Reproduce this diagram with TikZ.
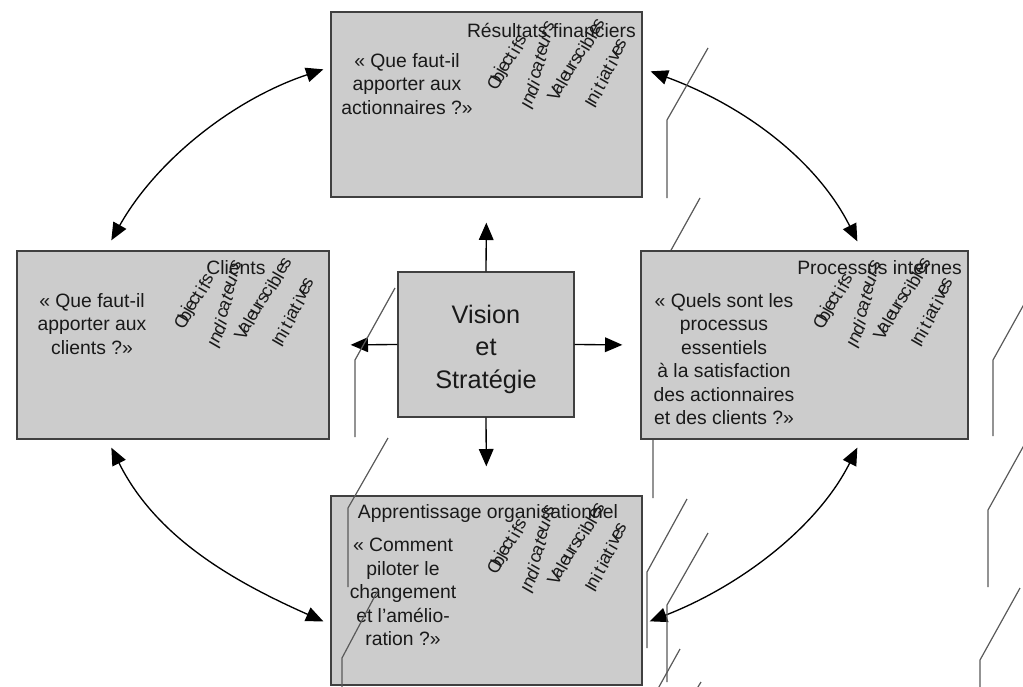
\documentclass[tikz,border=0pt]{standalone}
\usepackage{fontspec}
\setmainfont{Liberation Sans}
\usetikzlibrary{calc,arrows.meta}
\newcommand\gcol[6]{%
  \coordinate (ga) at ($(#1)+(#2)$);
  \coordinate (gb) at ($(#1)+(#3)$);
  \foreach \ch [count=\i] in {#5} {%
    \pgfmathsetmacro\gf{(\i-1)/(#4-1)}%
    \node[garb] (#6-\i) at ($(ga)!\gf!(gb)$) {\ch};
  }}
\newcommand\gblock[1]{%
  \gcol{#1}{0,0}{26,-42}{9}{O,b,j,e,c,t,i,f,s}{#1a}
  \gcol{#1}{33,24}{54,-56}{11}{I,n,d,i,c,a,t,e,u,r,s}{#1b}
  \gcol{#1}{60,12}{104,-58}{13}{V,a,l,e,u,r,s,c,i,b,l,e,s}{#1c}
  \gcol{#1}{96,22}{126,-38}{11}{I,n,i,t,i,a,t,i,v,e,s}{#1d}}
\begin{document}
\begin{tikzpicture}[x=0.75pt,y=-0.75pt,
  box/.style={draw=black!75,line width=1pt,fill=black!20,inner sep=0},
  ttl/.style={inner sep=0,text=black!90,font=\fontsize{14.5}{17.6}\selectfont},
  qst/.style={inner sep=0,align=center,text=black!90,font=\fontsize{14.5}{17.6}\selectfont},
  garb/.style={inner sep=0,rotate=60,text=black!90,font=\fontsize{13.5}{13.5}\selectfont},
  stray/.style={draw=black!65,line width=0.9pt},
  arr/.style={line width=1pt,-{Triangle[length=13pt,width=11pt]}},
  dbl/.style={line width=1pt,{Triangle[length=13pt,width=11pt]}-{Triangle[length=13pt,width=11pt]}},
]
\useasboundingbox (0,0) rectangle (1023,686);
\clip (0,0) rectangle (1023,686);

% stray lines hidden behind the right box
\draw[stray] (700,198) -- (660,270) -- (660,347);
\draw[stray] (693,350) -- (653,422) -- (653,498);

% boxes
\node[box,minimum width=233.25pt,minimum height=138.75pt] (top) at (486.5,104.5) {};
\node[box,minimum width=234pt,minimum height=141pt] (cl) at (173,345) {};
\node[box,minimum width=245.25pt,minimum height=141pt] (proc) at (804.5,345) {};
\node[box,minimum width=233.25pt,minimum height=141.75pt] (bott) at (486.5,590.5) {};
\node[box,minimum width=132pt,minimum height=108.75pt] (vs) at (486,344.5) {};

% titles
\node[ttl,anchor=east] (t-top) at (636,30) {Résultats financiers};
\node[ttl] (t-cl) at (236,268) {Clients};
\node[ttl,anchor=east] (t-proc) at (962,268) {Processus internes};
\node[ttl] (t-bott) at (488,513) {Apprentissage organisationnel};

% questions
\node[qst] (q-top) at (407,84) {« Que faut-il\\apporter aux\\actionnaires ?»};
\node[qst] (q-cl) at (92,324) {« Que faut-il\\apporter aux\\clients ?»};
\node[qst] (q-proc) at (724,359) {« Quels sont les\\processus\\essentiels\\à la satisfaction\\des actionnaires\\et des clients ?»};
\node[qst] (q-bott) at (403,592) {« Comment\\piloter le\\changement\\et l’amélio-\\ration ?»};
\node[inner sep=0,align=center,text=black!90,font=\fontsize{19}{24.4}\selectfont] (t-vs) at (486,349) {Vision\\et\\Stratégie};

% garbled rotated labels
\coordinate (gA) at ($(top.north east)+(-148,71)$);
\coordinate (gB) at ($(cl.north east)+(-148,71)$);
\coordinate (gC) at ($(proc.north east)+(-148,71)$);
\coordinate (gD) at ($(bott.north east)+(-148,71)$);
\gblock{gA}
\gblock{gB}
\gblock{gC}
\gblock{gD}

% arrows from the centre
\draw[arr,shorten >=18.75pt] (vs.north) -- (top.south);
\draw[arr,shorten >=21.75pt] (vs.south) -- (bott.north);
\draw[arr,shorten >=15.75pt] (vs.west) -- (cl.east);
\draw[arr,shorten >=13.5pt] (vs.east) -- (proc.west);

% curved double arrows
\draw[dbl] ($(cl.north west)+(95,-10)$) .. controls +(45,-80) and +(-90,30) .. ($(top.north west)+(-7,58)$);
\draw[dbl] ($(top.north east)+(8,60)$) .. controls +(95,35) and +(-40,-80) .. ($(proc.north west)+(217,-9)$);
\draw[dbl] ($(cl.south west)+(95,8)$) .. controls +(45,90) and +(-90,-40) .. ($(bott.north west)+(-7,126)$);
\draw[dbl] ($(bott.north east)+(7,126)$) .. controls +(90,-35) and +(-40,80) .. ($(proc.south west)+(217,8)$);

% stray lines
\draw[stray] (708,48) -- (667,120) -- (667,198);
\draw[stray] (395,288) -- (355,360) -- (355,437);
\draw[stray] (388,438) -- (348,508) -- (348,587);
\draw[stray] (377,592) -- (342,658) -- (342,690);
\draw[stray] (687,499) -- (647,572) -- (647,648);
\draw[stray] (708,533) -- (667,605) -- (667,682);
\draw[stray] (680,649) -- (640,721);
\draw[stray] (701,682) -- (690,700);
\draw[stray] (1028,438) -- (988,510) -- (988,587);
\draw[stray] (1020,588) -- (980,660) -- (980,737);
\draw[stray] (1033,288) -- (993,360) -- (993,436);
\end{tikzpicture}
\end{document}
